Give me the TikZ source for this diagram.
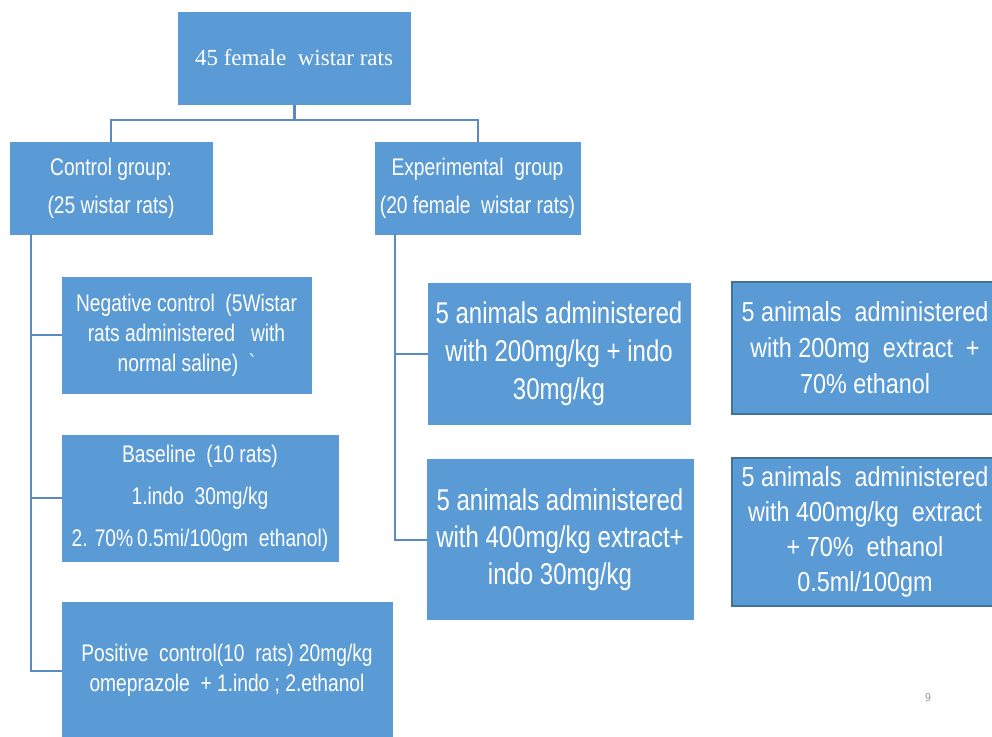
\documentclass[tikz,border=0pt]{standalone}
\usepackage{fontspec}
\setmainfont{Liberation Serif}
\newfontfamily\nar[FakeStretch=0.8]{Liberation Sans}
\newfontfamily\narb[FakeStretch=0.85]{Liberation Sans}
\definecolor{boxfill}{HTML}{5B9BD5}
\definecolor{linecol}{HTML}{5A8AC2}
\definecolor{darkedge}{HTML}{41719C}
\definecolor{pagenum}{HTML}{7F8C9E}
\tikzset{
  box/.style={fill=boxfill, draw=boxfill, line width=1pt, inner sep=0pt, text=white, align=center},
  edgebox/.style={box, draw=darkedge, line width=2pt},
  conn/.style={draw=linecol, line width=2pt},
}
\begin{document}
\begin{tikzpicture}[x=1pt,y=-1pt]
\useasboundingbox (0,0) rectangle (992,736);
% top
\node[box, minimum width=232pt, minimum height=92pt, font=\fontsize{23}{28}\selectfont] (top) at (294,58) {45 female\ \ wistar rats};
% groups
\node[box, minimum width=202pt, minimum height=92pt, font=\nar\fontsize{24}{38}\selectfont] (ctrl) at (111,188) {Control group:\\(25 wistar rats)};
\node[box, minimum width=205pt, minimum height=92pt, font=\nar\fontsize{24}{38}\selectfont] (exp) at (477.5,188) {Experimental\ \ group\\(20 female\ \ wistar rats)};
% control children
\node[box, minimum width=249pt, minimum height=116pt, font=\nar\fontsize{24}{30}\selectfont] (neg) at (186.5,335) {Negative control\ \ (5Wistar\\rats administered\ \ \ with\\normal saline)\ \ `};
\node[box, minimum width=276pt, minimum height=126pt, font=\nar\fontsize{24}{42}\selectfont] (base) at (200,498) {Baseline\ \ (10 rats)\\1.indo\ \ 30mg/kg\\2. 70\%\,0.5mi/100gm\ \ ethanol)};
\node[box, minimum width=330pt, minimum height=136pt, font=\nar\fontsize{24}{30}\selectfont] (pos) at (227,670) {Positive\ \ control(10\ \ rats) 20mg/kg\\omeprazole\ \ + 1.indo ; 2.ethanol};
% experimental children
\node[box, minimum width=262pt, minimum height=141pt, font=\nar\fontsize{30}{38}\selectfont] (ea) at (559,353.5) {5 animals administered\\with 200mg/kg + indo\\30mg/kg};
\node[box, minimum width=266pt, minimum height=160pt, font=\nar\fontsize{30}{37}\selectfont] (eb) at (560,539.5) {5 animals administered\\with 400mg/kg extract+\\indo 30mg/kg};
\node[edgebox, minimum width=266pt, minimum height=132pt, font=\narb\fontsize{27.5}{36}\selectfont] (ec) at (865,348) {5 animals\ \ administered\\with 200mg\ \ extract\ \ +\\70\% ethanol};
\node[edgebox, minimum width=266pt, minimum height=148pt, font=\narb\fontsize{27.5}{35}\selectfont] (ed) at (865,532) {5 animals\ \ administered\\with 400mg/kg\ \ extract\\+ 70\%\ \ ethanol\\0.5ml/100gm};
% connectors
\coordinate (j) at (294,120);
\draw[conn, line width=3pt] (top.south) -- (j);
\draw[conn] (ctrl.north) -- (ctrl.north |- j) -- (exp.north |- j) -- (exp.north);
% control spine
\coordinate (cs) at (31,234);
\draw[conn] (cs) |- (neg.west);
\draw[conn] (cs) |- (base.west);
\draw[conn] (cs) |- ([yshift=-1pt]pos.west);
% experimental spine
\coordinate (es) at (395,234);
\draw[conn] (es) |- (ea.west);
\draw[conn] (es) |- (eb.west);
% page number
\node[text=pagenum, font=\sffamily\fontsize{12}{14}\selectfont, inner sep=0pt] (pn) at (928,698) {9};
\end{tikzpicture}
\end{document}
